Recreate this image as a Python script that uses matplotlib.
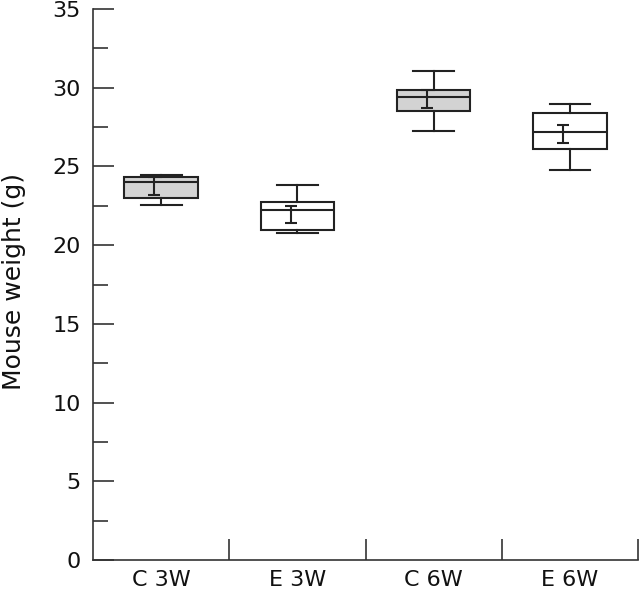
import matplotlib
matplotlib.use("Agg")
import matplotlib.pyplot as plt
from matplotlib.ticker import MultipleLocator
import numpy as np

plt.rcParams['font.family'] = ['DejaVu Sans']

# data (g)
groups = ['C 3W', 'E 3W', 'C 6W', 'E 6W']
whisker_low = [22.55, 20.78, 27.26, 24.80]
q1 = [22.98, 20.95, 28.53, 26.11]
median = [24.01, 22.24, 29.40, 27.21]
q3 = [24.31, 22.72, 29.84, 28.42]
whisker_high = [24.44, 23.85, 31.09, 28.99]
mean = [23.75, 21.95, 29.28, 27.06]
se = [0.56, 0.56, 0.56, 0.57]
fills = ['#d3d3d3', 'white', '#d3d3d3', 'white']

fig = plt.figure(figsize=(6.4, 5.94), dpi=100)
ax = fig.add_axes([0.1453, 0.0572, 0.8517, 0.9276])

pos = np.arange(len(groups)) + 0.5
stats = []
for i in range(len(groups)):
    stats.append({'whislo': whisker_low[i], 'q1': q1[i], 'med': median[i],
                  'q3': q3[i], 'whishi': whisker_high[i], 'fliers': []})

lw = 1.5
bp = ax.bxp(stats, positions=pos, widths=0.54, showfliers=False,
            patch_artist=True, showcaps=True,
            boxprops=dict(color='#222222', linewidth=lw),
            medianprops=dict(color='#222222', linewidth=lw),
            whiskerprops=dict(color='#222222', linewidth=lw),
            capprops=dict(color='#222222', linewidth=lw),
            capwidths=0.3)
for patch, c in zip(bp['boxes'], fills):
    patch.set_facecolor(c)

ax.errorbar(pos - 0.05, mean, yerr=se, fmt='none', ecolor='#222222',
            elinewidth=lw, capsize=4, capthick=lw)

ax.set_xlim(0, 4)
ax.set_ylim(0, 35)
ax.yaxis.set_major_locator(MultipleLocator(5))
ax.yaxis.set_minor_locator(MultipleLocator(2.5))
ax.set_xticks([1, 2, 3, 4])
ax.set_xticklabels([])
ax.set_xticks(pos, minor=True)
ax.set_xticklabels(groups, minor=True)
ax.tick_params(axis='x', which='major', direction='in', length=15, width=1.2, color='#333333')
ax.tick_params(axis='x', which='minor', length=0, pad=7, labelsize=16, labelcolor='#111111')
ax.tick_params(axis='y', which='major', direction='in', length=15, width=1.2, color='#333333',
               labelsize=16, pad=9, labelcolor='#111111')
ax.tick_params(axis='y', which='minor', direction='in', length=11, width=1.2, color='#333333')
ax.set_ylabel('Mouse weight (g)', fontsize=18, color='#111111')
ax.yaxis.set_label_coords(-0.122, 0.505)

for s in ['top', 'right']:
    ax.spines[s].set_visible(False)
for s in ['left', 'bottom']:
    ax.spines[s].set_linewidth(1.2)
    ax.spines[s].set_color('#333333')

fig.savefig('out.png', dpi=100)
